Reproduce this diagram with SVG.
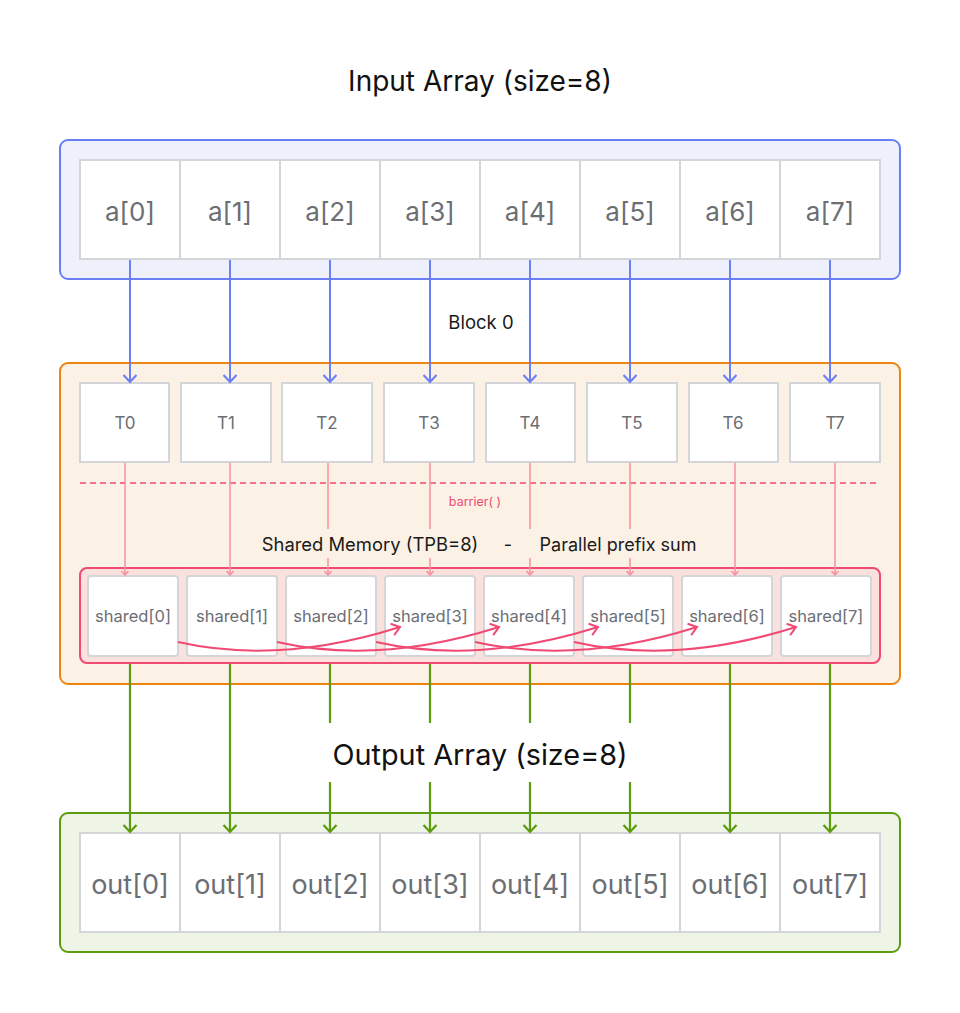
<svg xmlns="http://www.w3.org/2000/svg" width="960" height="1013" viewBox="0 0 960 1013">
<defs>
<style>
.title{font-family:Inter,"Liberation Sans",sans-serif;font-size:28px;fill:#111;text-anchor:middle}
.title2{font-family:Inter,"Liberation Sans",sans-serif;font-size:28.8px;fill:#111;text-anchor:middle}
.lbl{font-family:Inter,"Liberation Sans",sans-serif;fill:#1a1a1a;text-anchor:middle}
.cell{fill:#ffffff;stroke:#d4d5d9;stroke-width:2}
.big{font-family:Inter,"Liberation Sans",sans-serif;font-size:26px;fill:#6b6e73;text-anchor:middle}
.bigo{font-family:Inter,"Liberation Sans",sans-serif;font-size:27px;fill:#6b6e73;text-anchor:middle}
.mid{font-family:Inter,"Liberation Sans",sans-serif;font-size:16.5px;fill:#6b6e73;text-anchor:middle}
.tl{font-family:Inter,"Liberation Sans",sans-serif;font-size:17px;fill:#6b6e73;text-anchor:middle}
.blue{stroke:#6a7ff5;stroke-width:2;fill:none}
.pink{stroke:#f7909f;stroke-width:1.5;fill:none}
.green{stroke:#5c9c0e;stroke-width:2.2;fill:none}
.curve{stroke:#f04a73;stroke-width:2;fill:none}
</style>
<marker id="mb" viewBox="0 0 16 16" refX="9" refY="8" markerWidth="16" markerHeight="16" markerUnits="userSpaceOnUse" orient="auto"><path d="M2,1.5 L9,8 L2,14.5" fill="none" stroke="#6a7ff5" stroke-width="2"/></marker>
<marker id="mp" viewBox="0 0 10 10" refX="6" refY="5" markerWidth="10" markerHeight="10" markerUnits="userSpaceOnUse" orient="auto"><path d="M2,1.5 L6,5 L2,8.5" fill="none" stroke="#f7909f" stroke-width="1.5"/></marker>
<marker id="mg" viewBox="0 0 16 16" refX="9" refY="8" markerWidth="16" markerHeight="16" markerUnits="userSpaceOnUse" orient="auto"><path d="M2,1.5 L9,8 L2,14.5" fill="none" stroke="#5c9c0e" stroke-width="2.2"/></marker>
<marker id="mc" viewBox="0 0 16 16" refX="10" refY="8" markerWidth="16" markerHeight="16" markerUnits="userSpaceOnUse" orient="auto"><path d="M2,2 L10,8 L2,14" fill="none" stroke="#f04a73" stroke-width="2"/></marker>
</defs>
<rect width="960" height="1013" fill="#ffffff"/>

<text class="title" x="480" y="91">Input Array (size=8)</text>

<g id="input">
<rect x="60" y="140" width="840" height="139" rx="8" fill="#eef0fc" stroke="#6a7ff5" stroke-width="2"/>
<rect class="cell" x="80" y="160" width="100" height="99"/><text class="big" x="130" y="221">a[0]</text>
<rect class="cell" x="180" y="160" width="100" height="99"/><text class="big" x="230" y="221">a[1]</text>
<rect class="cell" x="280" y="160" width="100" height="99"/><text class="big" x="330" y="221">a[2]</text>
<rect class="cell" x="380" y="160" width="100" height="99"/><text class="big" x="430" y="221">a[3]</text>
<rect class="cell" x="480" y="160" width="100" height="99"/><text class="big" x="530" y="221">a[4]</text>
<rect class="cell" x="580" y="160" width="100" height="99"/><text class="big" x="630" y="221">a[5]</text>
<rect class="cell" x="680" y="160" width="100" height="99"/><text class="big" x="730" y="221">a[6]</text>
<rect class="cell" x="780" y="160" width="100" height="99"/><text class="big" x="830" y="221">a[7]</text>
</g>

<g id="block0">
<rect x="60" y="363" width="840" height="321" rx="8" fill="#fcf1e5" stroke="#ee8410" stroke-width="2"/>
<text class="lbl" x="481" y="329" font-size="18.5">Block 0</text>
</g>

<g id="threads">
<rect class="cell" x="80" y="383" width="89" height="79"/><text class="tl" x="125" y="429">T0</text>
<rect class="cell" x="181" y="383" width="90" height="79"/><text class="tl" x="226" y="429">T1</text>
<rect class="cell" x="282" y="383" width="90" height="79"/><text class="tl" x="327" y="429">T2</text>
<rect class="cell" x="384" y="383" width="90" height="79"/><text class="tl" x="429" y="429">T3</text>
<rect class="cell" x="486" y="383" width="89" height="79"/><text class="tl" x="530" y="429">T4</text>
<rect class="cell" x="587" y="383" width="90" height="79"/><text class="tl" x="632" y="429">T5</text>
<rect class="cell" x="689" y="383" width="89" height="79"/><text class="tl" x="733" y="429">T6</text>
<rect class="cell" x="790" y="383" width="90" height="79"/><text class="tl" x="835" y="429">T7</text>
</g>

<g id="barrier">
<line x1="80" y1="483" x2="880" y2="483" stroke="#f04a73" stroke-width="1.5" stroke-dasharray="6,4"/>
<text x="475" y="506" font-family="Inter,'Liberation Sans',sans-serif" font-size="12.5" fill="#f04a73" text-anchor="middle">barrier( )</text>
</g>

<g id="shared">
<rect x="80" y="568" width="800" height="95" rx="7" fill="#fbe1dd" stroke="#f04a73" stroke-width="2"/>
<text class="lbl" x="370" y="551" font-size="18.4">Shared Memory (TPB=8)</text>
<text class="lbl" x="508" y="551" font-size="18">-</text>
<text class="lbl" x="618" y="551" font-size="18">Parallel prefix sum</text>
<rect class="cell" x="88" y="576" width="90" height="80" rx="3"/><text class="mid" x="133" y="622">shared[0]</text>
<rect class="cell" x="187" y="576" width="90" height="80" rx="3"/><text class="mid" x="232" y="622">shared[1]</text>
<rect class="cell" x="286" y="576" width="90" height="80" rx="3"/><text class="mid" x="331" y="622">shared[2]</text>
<rect class="cell" x="385" y="576" width="90" height="80" rx="3"/><text class="mid" x="430" y="622">shared[3]</text>
<rect class="cell" x="484" y="576" width="90" height="80" rx="3"/><text class="mid" x="529" y="622">shared[4]</text>
<rect class="cell" x="583" y="576" width="90" height="80" rx="3"/><text class="mid" x="628" y="622">shared[5]</text>
<rect class="cell" x="682" y="576" width="90" height="80" rx="3"/><text class="mid" x="727" y="622">shared[6]</text>
<rect class="cell" x="781" y="576" width="90" height="80" rx="3"/><text class="mid" x="826" y="622">shared[7]</text>
</g>

<text class="title2" x="480" y="765">Output Array (size=8)</text>

<g id="output">
<rect x="60" y="813" width="840" height="139" rx="8" fill="#eef4e6" stroke="#5c9c0e" stroke-width="2"/>
<rect class="cell" x="80" y="833" width="100" height="99"/><text class="bigo" x="130" y="894">out[0]</text>
<rect class="cell" x="180" y="833" width="100" height="99"/><text class="bigo" x="230" y="894">out[1]</text>
<rect class="cell" x="280" y="833" width="100" height="99"/><text class="bigo" x="330" y="894">out[2]</text>
<rect class="cell" x="380" y="833" width="100" height="99"/><text class="bigo" x="430" y="894">out[3]</text>
<rect class="cell" x="480" y="833" width="100" height="99"/><text class="bigo" x="530" y="894">out[4]</text>
<rect class="cell" x="580" y="833" width="100" height="99"/><text class="bigo" x="630" y="894">out[5]</text>
<rect class="cell" x="680" y="833" width="100" height="99"/><text class="bigo" x="730" y="894">out[6]</text>
<rect class="cell" x="780" y="833" width="100" height="99"/><text class="bigo" x="830" y="894">out[7]</text>
</g>

<g id="connectors">
<path class="blue" d="M130,260 V382" marker-end="url(#mb)"/>
<path class="blue" d="M230,260 V382" marker-end="url(#mb)"/>
<path class="blue" d="M330,260 V382" marker-end="url(#mb)"/>
<path class="blue" d="M430,260 V382" marker-end="url(#mb)"/>
<path class="blue" d="M530,260 V382" marker-end="url(#mb)"/>
<path class="blue" d="M630,260 V382" marker-end="url(#mb)"/>
<path class="blue" d="M730,260 V382" marker-end="url(#mb)"/>
<path class="blue" d="M830,260 V382" marker-end="url(#mb)"/>

<path class="pink" d="M125,463 V575" marker-end="url(#mp)"/>
<path class="pink" d="M230,463 V575" marker-end="url(#mp)"/>
<path class="pink" d="M328,463 V529 M328,558 V575" marker-end="url(#mp)"/>
<path class="pink" d="M430,463 V529 M430,558 V575" marker-end="url(#mp)"/>
<path class="pink" d="M530,463 V529 M530,558 V575" marker-end="url(#mp)"/>
<path class="pink" d="M630,463 V529 M630,558 V575" marker-end="url(#mp)"/>
<path class="pink" d="M735,463 V575" marker-end="url(#mp)"/>
<path class="pink" d="M835,463 V575" marker-end="url(#mp)"/>

<path class="curve" d="M178,642 Q280,665 400,627" marker-end="url(#mc)"/>
<path class="curve" d="M277,642 Q379,665 499,627" marker-end="url(#mc)"/>
<path class="curve" d="M376,642 Q478,665 598,627" marker-end="url(#mc)"/>
<path class="curve" d="M475,642 Q577,665 697,627" marker-end="url(#mc)"/>
<path class="curve" d="M574,642 Q676,665 796,627" marker-end="url(#mc)"/>

<path class="green" d="M130,664 V832" marker-end="url(#mg)"/>
<path class="green" d="M230,664 V832" marker-end="url(#mg)"/>
<path class="green" d="M330,664 V723 M330,782 V832" marker-end="url(#mg)"/>
<path class="green" d="M430,664 V723 M430,782 V832" marker-end="url(#mg)"/>
<path class="green" d="M530,664 V723 M530,782 V832" marker-end="url(#mg)"/>
<path class="green" d="M630,664 V723 M630,782 V832" marker-end="url(#mg)"/>
<path class="green" d="M730,664 V832" marker-end="url(#mg)"/>
<path class="green" d="M830,664 V832" marker-end="url(#mg)"/>
</g>
</svg>
